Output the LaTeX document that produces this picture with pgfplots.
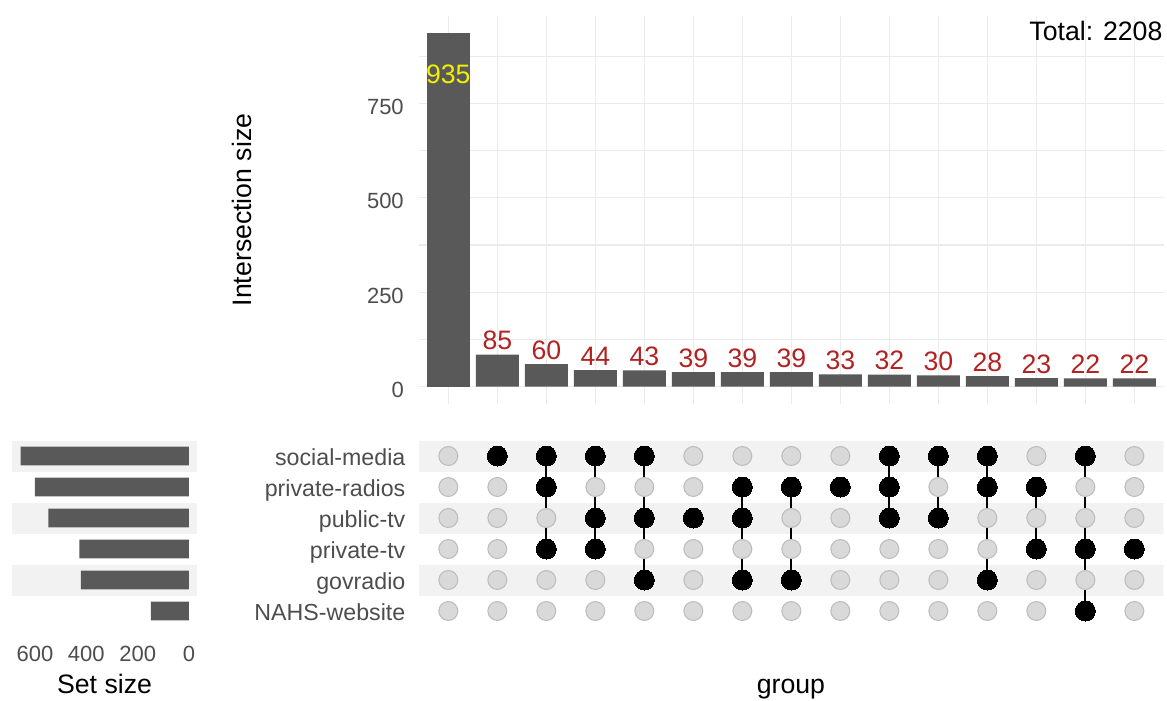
\documentclass[border=0pt]{standalone}
\usepackage{pgfplots}
\pgfplotsset{compat=1.18}
\usepackage{fontspec}
\setmainfont{Liberation Sans}

\definecolor{barfill}{HTML}{595959}
\definecolor{gridmaj}{HTML}{EBEBEB}
\definecolor{tickgray}{HTML}{4D4D4D}
\definecolor{stripe}{HTML}{F2F2F2}
\definecolor{dotoff}{HTML}{D9D9D9}
\definecolor{dotedge}{HTML}{BDBDBD}
\definecolor{countred}{HTML}{B22222}
\definecolor{countyel}{HTML}{F0F000}

\newcommand{\tickfont}{\fontsize{16.5}{18}\selectfont}
\newcommand{\rowfont}{\fontsize{17.4}{19}\selectfont}
\newcommand{\titlefont}{\fontsize{20}{22}\selectfont}
\newcommand{\countfont}{\fontsize{20}{22}\selectfont}

\pgfplotsset{
  upset/.style={
    scale only axis,
    axis line style={draw=none},
    major tick length=0pt, minor tick length=0pt,
    /pgf/number format/assume math mode=true,
    ticklabel style={font=\tickfont, text=tickgray},
  },
  onset/.style={black, line width=1.5pt, mark=*, mark size=7.5pt,
    mark options={fill=black, draw=black, line width=0pt}},
}

\begin{document}
\begin{tikzpicture}
\useasboundingbox (0,0) rectangle (875.25pt,-525pt);

% intersection sizes (top)
\begin{axis}[upset,
  at={(314.2pt,-303.3pt)}, anchor=south west,
  width=558.6pt, height=291.5pt,
  xmin=0.4, xmax=15.6, ymin=-46.75, ymax=981.75,
  xtick={1,...,15}, xticklabels={},
  ytick={0,250,500,750}, minor ytick={125,375,625,875},
  xmajorgrids, ymajorgrids, yminorgrids,
  major grid style={gridmaj, line width=1pt},
  minor grid style={gridmaj, line width=0.8pt},
  yticklabel style={anchor=base east, inner sep=0pt, xshift=-11.2pt, yshift=-8.2pt},
  ybar, bar width=0.88, bar shift=0pt,
]
\addplot[fill=barfill, draw=none, nodes near coords,
  every node near coord/.append style={anchor=base, inner sep=0pt,
    yshift=-37.5pt, font=\countfont, text=countyel}]
  coordinates {(1,935)};
\addplot[fill=barfill, draw=none, nodes near coords,
  every node near coord/.append style={anchor=base, inner sep=0pt,
    yshift=3.75pt, font=\countfont, text=countred}]
  coordinates {(2,85) (3,60) (4,44) (5,43) (6,39) (7,39) (8,39) (9,33)
               (10,32) (11,30) (12,28) (13,23) (14,22) (15,22)};
\end{axis}

% membership matrix
\begin{axis}[upset,
  at={(314.2pt,-472.2pt)}, anchor=south west,
  width=558.6pt, height=144.15pt,
  xmin=0.4, xmax=15.6, ymin=0.4, ymax=6.6,
  xtick=\empty, ytick={1,...,6},
  yticklabels={NAHS-website,govradio,private-tv,public-tv,private-radios,social-media},
  yticklabel style={anchor=base east, inner sep=0pt, xshift=-10pt, yshift=-7.3pt, font=\rowfont},
]
\fill[stripe] (axis cs:0.4,5.5) rectangle (axis cs:15.6,6.5);
\fill[stripe] (axis cs:0.4,3.5) rectangle (axis cs:15.6,4.5);
\fill[stripe] (axis cs:0.4,1.5) rectangle (axis cs:15.6,2.5);
\pgfplotsinvokeforeach{1,...,15}{
  \addplot[only marks, mark=*, mark size=7.1pt,
    mark options={fill=dotoff, draw=dotedge, line width=0.8pt}]
    coordinates {(#1,1) (#1,2) (#1,3) (#1,4) (#1,5) (#1,6)};
}
\addplot[onset] coordinates {(2,6)};
\addplot[onset] coordinates {(3,6) (3,5) (3,3)};
\addplot[onset] coordinates {(4,6) (4,4) (4,3)};
\addplot[onset] coordinates {(5,6) (5,4) (5,2)};
\addplot[onset] coordinates {(6,4)};
\addplot[onset] coordinates {(7,5) (7,4) (7,2)};
\addplot[onset] coordinates {(8,5) (8,2)};
\addplot[onset] coordinates {(9,5)};
\addplot[onset] coordinates {(10,6) (10,5) (10,4)};
\addplot[onset] coordinates {(11,6) (11,4)};
\addplot[onset] coordinates {(12,6) (12,5) (12,2)};
\addplot[onset] coordinates {(13,5) (13,3)};
\addplot[onset] coordinates {(14,6) (14,3) (14,1)};
\addplot[onset] coordinates {(15,3)};
\end{axis}

% set sizes (left)
\begin{axis}[upset,
  at={(9.15pt,-472.2pt)}, anchor=south west,
  width=138.9pt, height=144.15pt,
  xmin=-32.8, xmax=688.8, x dir=reverse, ymin=0.4, ymax=6.6,
  ytick=\empty, xtick={0,200,400,600},
  xticklabel style={anchor=base, inner sep=0pt, yshift=-24.1pt},
  xbar, bar width=0.6, bar shift=0pt,
]
\fill[stripe] (axis cs:-32.8,5.5) rectangle (axis cs:688.8,6.5);
\fill[stripe] (axis cs:-32.8,3.5) rectangle (axis cs:688.8,4.5);
\fill[stripe] (axis cs:-32.8,1.5) rectangle (axis cs:688.8,2.5);
\addplot[fill=barfill, draw=none]
  coordinates {(656,6) (600,5) (548,4) (427,3) (421,2) (148,1)};
\end{axis}

\node[rotate=90, anchor=base, font=\titlefont, inner sep=0pt] at (188.25pt,-157.5pt) {Intersection size};
\node[anchor=base east, font=\titlefont, inner sep=0pt] at (872pt,-30.5pt) {Total: 2208};
\node[anchor=base, font=\titlefont, inner sep=0pt] at (78.4pt,-520pt) {Set size};
\node[anchor=base, font=\titlefont, inner sep=0pt] at (593.2pt,-520pt) {group};
\end{tikzpicture}
\end{document}
